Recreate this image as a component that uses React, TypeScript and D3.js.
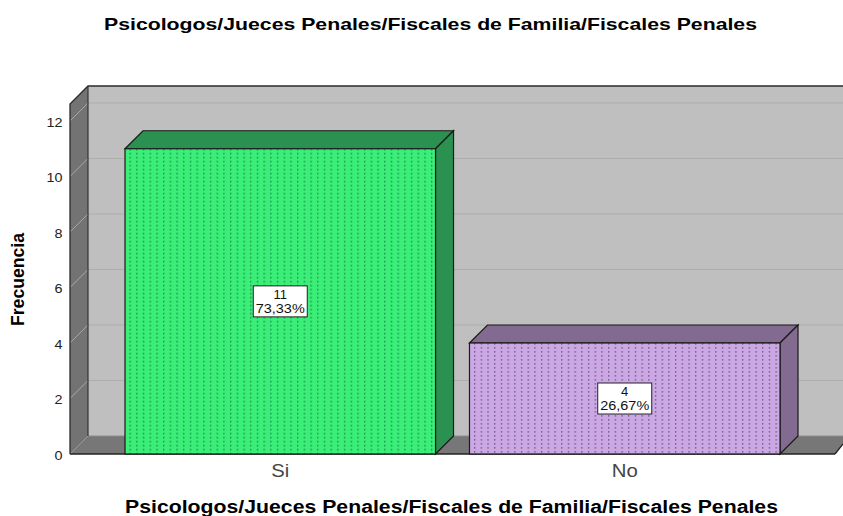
import React from "react";
import * as d3 from "d3";

const categories = ["Si", "No"];
const frequencies = [11, 4];
const percentLabels = ["73,33%", "26,67%"];
const tickValues = [0, 2, 4, 6, 8, 10, 12];
const chartTitle = "Psicologos/Jueces Penales/Fiscales de Familia/Fiscales Penales";
const yTitle = "Frecuencia";
const frontColors = ["#3bee78", "#cba8e4"];
const topColors = ["#2a9150", "#836a91"];
const dotColors = ["#1c9350", "#75608a"];

const W = 843;
const H = 516;
const depth = 18;
const y = d3.scaleLinear().domain([0, 12]).range([454, 121]);
const x = d3.scaleBand<string>().domain(categories).range([125, 780]).paddingInner(0.0986);
const line = d3.line();
const sans = "'Liberation Sans', Arial, sans-serif";

export default function App() {
  const floorY = y(0);
  const wallTop = 86;
  const backLeft = 70 + depth;
  return (
    <svg width={W} height={H} viewBox={`0 0 ${W} ${H}`} style={{ position: "absolute", left: 0, top: 0, background: "#fff" }}>
      <defs>
        <filter id="soft" x="-5%" y="-5%" width="110%" height="110%"><feGaussianBlur stdDeviation="0.3" /></filter>
        {categories.map((c, i) => (
          <pattern key={c} id={`dots${i}`} x={x(c)! + 4.5} y={y(frequencies[i]) + 4} width={6.7} height={4} patternUnits="userSpaceOnUse">
            <rect x={0} y={0} width={1.3} height={1.7} fill={dotColors[i]} />
          </pattern>
        ))}
      </defs>
      <text x={430.5} y={30} textAnchor="middle" textLength={653} lengthAdjust="spacingAndGlyphs" fontFamily={sans} fontWeight="bold" fontSize={16.5} fill="#000">{chartTitle}</text>

      {/* back wall */}
      <rect x={backLeft} y={wallTop} width={W - backLeft} height={floorY - depth - wallTop} fill="#bfbfbf" />
      {/* left wall */}
      <path d={line([[70, wallTop + depth], [backLeft, wallTop], [backLeft, floorY - depth], [70, floorY]])! + "Z"} fill="#737373" />
      {/* floor */}
      <path d={line([[70, floorY], [backLeft, floorY - depth], [W, floorY - depth], [W, floorY - 10], [835, floorY], [70, floorY]])! + "Z"} fill="#777777" />

      {/* gridlines */}
      {tickValues.filter((t) => t > 0).map((t) => (
        <g key={t}>
          <line x1={70} y1={y(t)} x2={backLeft} y2={y(t) - depth} stroke="#a8a8a8" strokeWidth={1} />
          <line x1={backLeft} y1={y(t) - depth} x2={W} y2={y(t) - depth} stroke="#adadad" strokeWidth={1} />
        </g>
      ))}
      <line x1={70} y1={floorY} x2={backLeft} y2={floorY - depth} stroke="#9a9a9a" strokeWidth={1} />
      <line x1={backLeft} y1={floorY - depth} x2={W} y2={floorY - depth} stroke="#8d8d8d" strokeWidth={1} />

      {/* frame lines */}
      <path d={line([[70, floorY], [70, wallTop + depth], [backLeft, wallTop], [W, wallTop]])!} fill="none" stroke="#2b2b2b" strokeWidth={1.3} />
      <line x1={backLeft} y1={wallTop} x2={backLeft} y2={floorY - depth} stroke="#333" strokeWidth={1.2} />
      <line x1={70} y1={floorY} x2={835} y2={floorY} stroke="#222" strokeWidth={1.3} />
      <line x1={835} y1={floorY} x2={W} y2={floorY - 10} stroke="#222" strokeWidth={1.3} />

      {/* bars */}
      {categories.map((c, i) => {
        const x0 = x(c)!;
        const x1 = x0 + x.bandwidth();
        const top = y(frequencies[i]);
        const cx = (x0 + x1) / 2;
        const cy = (top + floorY) / 2;
        return (
          <g key={c}>
            <path d={line([[x0, top], [x0 + depth, top - depth], [x1 + depth, top - depth], [x1, top]])! + "Z"} fill={topColors[i]} stroke="#1a1a1a" strokeWidth={1.2} />
            <path d={line([[x1, top], [x1 + depth, top - depth], [x1 + depth, floorY - depth], [x1, floorY]])! + "Z"} fill={topColors[i]} stroke="#1a1a1a" strokeWidth={1.2} />
            <rect x={x0} y={top} width={x1 - x0} height={floorY - top} fill={frontColors[i]} />
            <rect x={x0} y={top} width={x1 - x0} height={floorY - top} fill={`url(#dots${i})`} filter="url(#soft)" />
            <rect x={x0} y={top} width={x1 - x0} height={floorY - top} fill="none" stroke="#1a1a1a" strokeWidth={1.2} />
            <rect x={cx - 27} y={cy - 15.5} width={54} height={31} fill="#fff" stroke="#222" strokeWidth={1} />
            <text x={cx} y={cy - 2.5} textAnchor="middle" fontFamily={sans} fontSize={13} fill="#111">{frequencies[i]}</text>
            <text x={cx} y={cy + 11.5} textAnchor="middle" textLength={49} lengthAdjust="spacingAndGlyphs" fontFamily={sans} fontSize={13.5} fill="#111">{percentLabels[i]}</text>
            <text x={cx} y={477} textAnchor="middle" fontFamily={sans} fontSize={18} textLength={c === "Si" ? 18 : 26} lengthAdjust="spacingAndGlyphs" fill="#444">{c}</text>
          </g>
        );
      })}

      {/* y ticks */}
      {tickValues.map((t) => (
        <text key={t} x={62.5} y={y(t) + 5.5} textAnchor="end" textLength={String(t).length * 8} lengthAdjust="spacingAndGlyphs" fontFamily={sans} fontSize={13} fill="#222">{t}</text>
      ))}
      <text transform={`translate(23.5,279.5) rotate(-90)`} textAnchor="middle" textLength={93} lengthAdjust="spacingAndGlyphs" fontFamily={sans} fontWeight="bold" fontSize={19} fill="#000">{yTitle}</text>
      <text x={451.5} y={512.5} textAnchor="middle" textLength={653} lengthAdjust="spacingAndGlyphs" fontFamily={sans} fontWeight="bold" fontSize={18} fill="#000">{chartTitle}</text>
    </svg>
  );
}
